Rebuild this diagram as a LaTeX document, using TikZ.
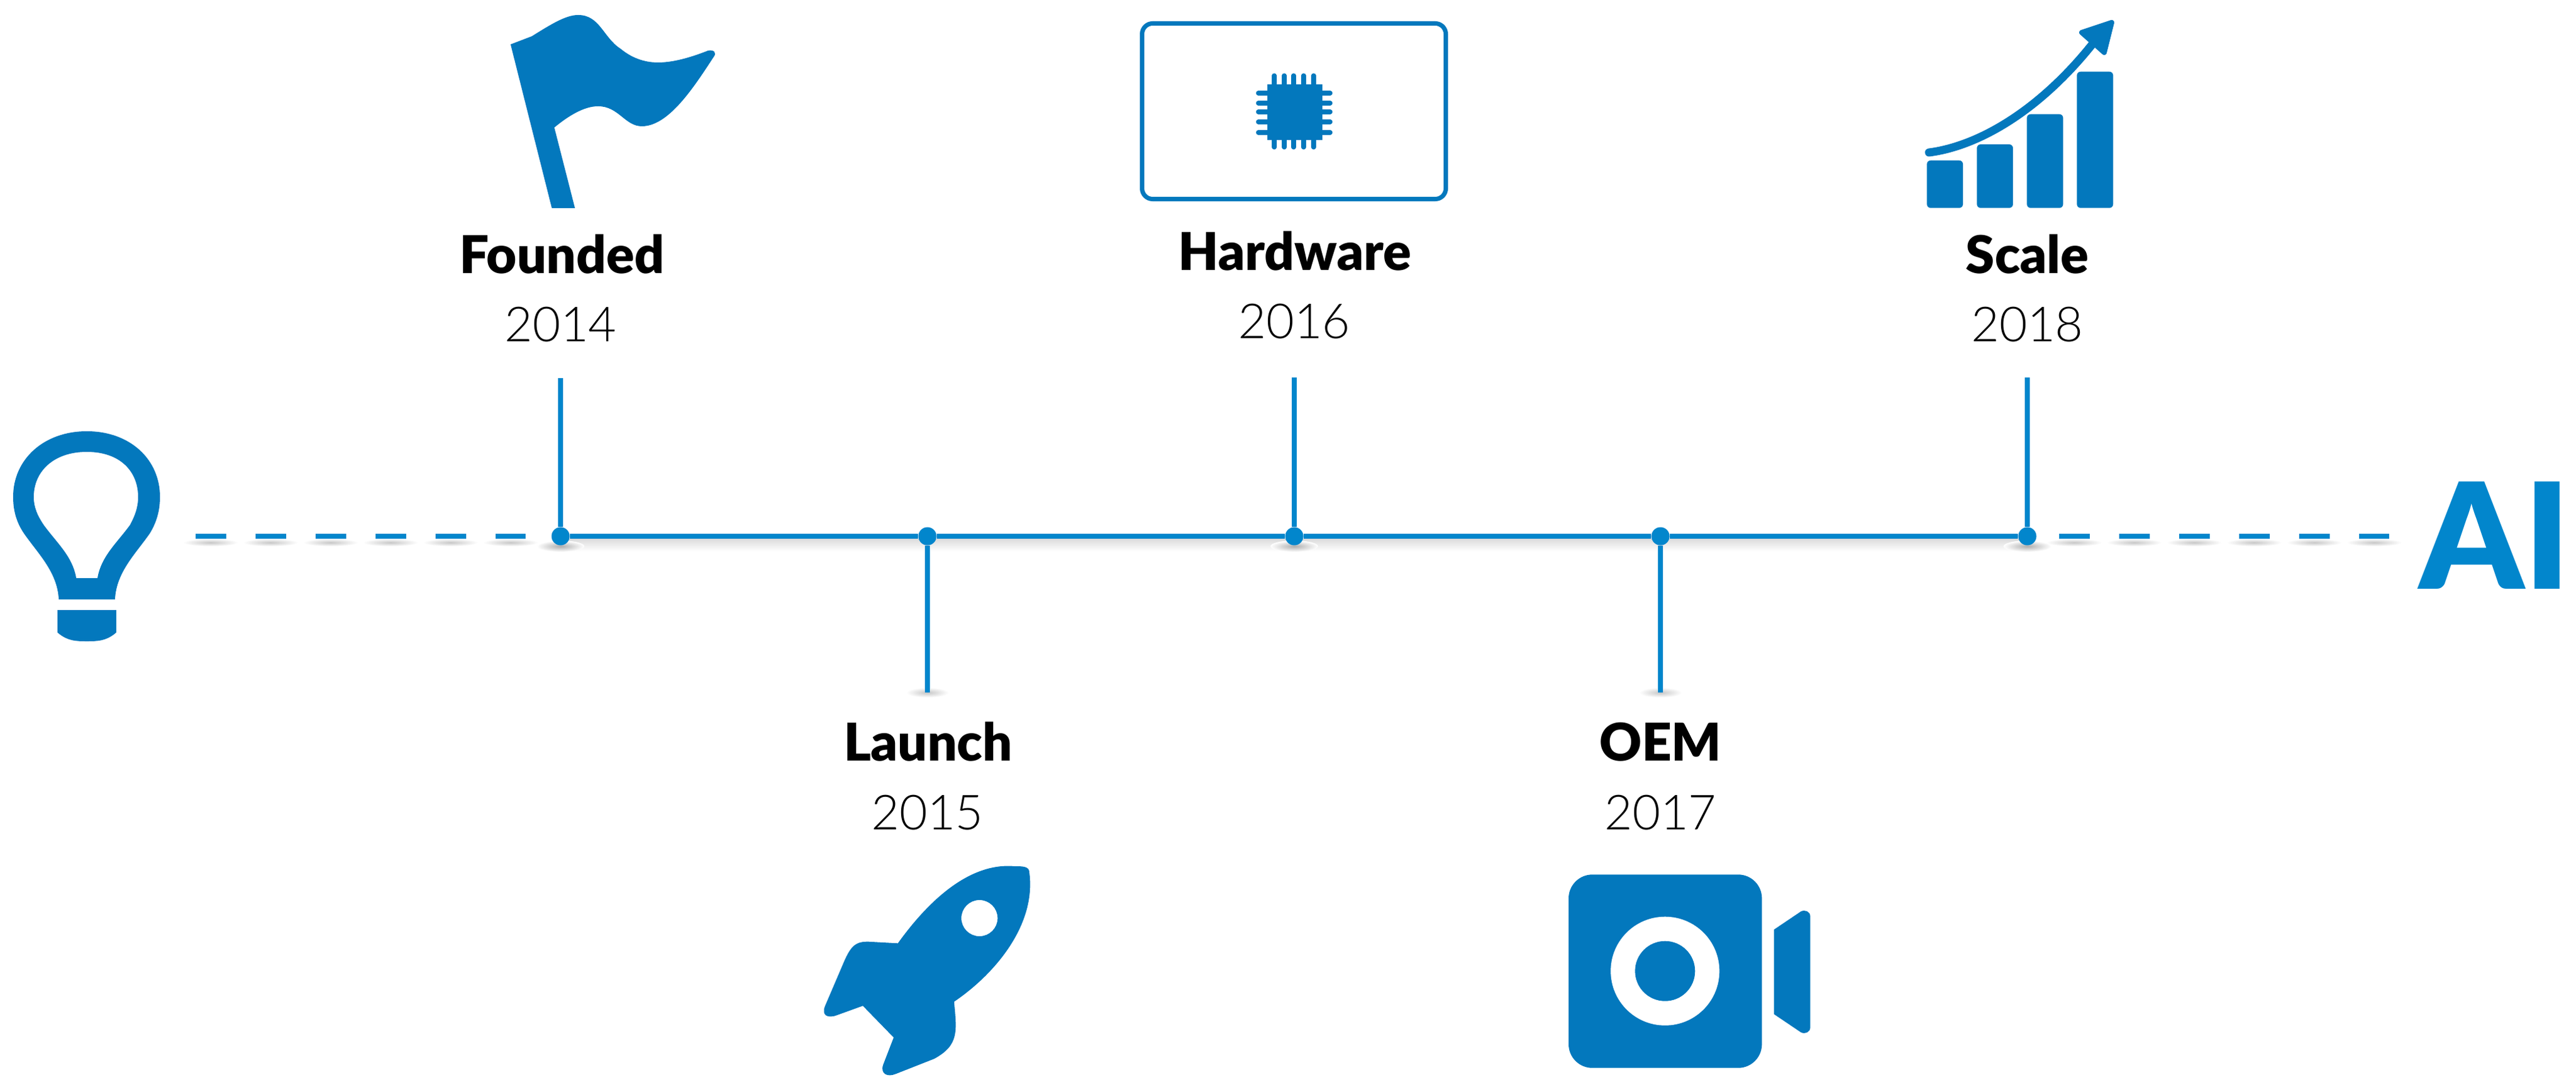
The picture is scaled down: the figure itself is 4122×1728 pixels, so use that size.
\documentclass[tikz,border=0pt]{standalone}
\usepackage{fontspec}
\setmainfont{Lato}
\newfontfamily\headf{Lato}[UprightFont=* Black,BoldFont=* Black]
\newfontfamily\yearf{Lato}[UprightFont=* Light]
\usetikzlibrary{shapes.geometric}
\definecolor{iconblue}{HTML}{0378BD}
\definecolor{lineblue}{HTML}{0286CC}
\tikzset{
  icon/.style={fill=iconblue,draw=none},
  axisline/.style={draw=lineblue,line width=2.4pt},
  dashline/.style={axisline,dash pattern=on 13.94pt off 13.37pt},
  stem/.style={draw=lineblue,line width=2.28pt},
  tdot/.style={circle,fill=lineblue,draw=none,minimum size=8.25pt,inner sep=0pt},
  headlabel/.style={font=\headf\fontsize{23.7pt}{25pt}\selectfont,text=black,inner sep=0pt,anchor=base},
  yearlabel/.style={font=\yearf\fontsize{22pt}{24pt}\selectfont,text=black,inner sep=0pt,anchor=base},
  pin/.style={draw=iconblue,line width=2.1pt,line cap=round},
  softshadow/.style={inner color=black!22,outer color=white,draw=none},
}
\begin{document}
\begin{tikzpicture}[x=0.01cm,y=-0.01cm]
\useasboundingbox (0,0) rectangle (4122,1728);
\fill[white] (0,0) rectangle (4122,1728);
% soft shadows
\shade[top color=black!14,bottom color=white,draw=none] (897,862) rectangle (3244,882);
\foreach \x in {337,433,529,625,721,817,3319,3415,3511,3607,3703,3799}
  \shade[softshadow] (\x,868) ellipse (44 and 6);
\foreach \x in {897,2071,3244}
  \shade[inner color=black!32,outer color=white,draw=none] (\x,874) ellipse (38 and 9);
\foreach \x in {1484,2657}
  \shade[softshadow] (\x,1108) ellipse (34 and 8);
% anchors of the timeline
\node[tdot] (d1) at (897,858) {};
\node[tdot] (d2) at (1484,858) {};
\node[tdot] (d3) at (2071,858) {};
\node[tdot] (d4) at (2657,858) {};
\node[tdot] (d5) at (3244,858) {};
\coordinate (ls) at (313,858);
\coordinate (le) at (841,858);
\coordinate (rs) at (3295,858);
\coordinate (re) at (3823,858);
\coordinate (t1) at (897,605);
\coordinate (t2) at (1484,1108);
\coordinate (t3) at (2071,604);
\coordinate (t4) at (2657,1108);
\coordinate (t5) at (3244,604);
\draw[dashline] (ls) -- (le);
\draw[dashline] (rs) -- (re);
\draw[axisline] (d1) -- (d2);
\draw[axisline] (d2) -- (d3);
\draw[axisline] (d3) -- (d4);
\draw[axisline] (d4) -- (d5);
\draw[stem] (t1) -- (d1);
\draw[stem] (t2) -- (d2);
\draw[stem] (t3) -- (d3);
\draw[stem] (t4) -- (d4);
\draw[stem] (t5) -- (d5);
% labels
\node[headlabel] (h1) at (899,438) {Founded};
\node[yearlabel] (y1) at (897,547) {2014};
\node[headlabel] (h2) at (1485,1217) {Launch};
\node[yearlabel] (y2) at (1484,1327) {2015};
\node[headlabel] (h3) at (2072,433) {Hardware};
\node[yearlabel] (y3) at (2071,542) {2016};
\node[headlabel] (h4) at (2657,1217) {OEM};
\node[yearlabel] (y4) at (2657,1327) {2017};
\node[headlabel] (h5) at (3244,438) {Scale};
\node[yearlabel] (y5) at (3244,547) {2018};
\node[font=\headf\fontsize{67pt}{70pt}\selectfont,text=lineblue,inner sep=0pt,anchor=base] (ai) at (3992,942) {AI};
% bulb
\fill[icon,even odd rule]
  (94,959) .. controls (92,915) and (60,885) .. (38,853)
  .. controls (28,838) and (21,820) .. (21,795)
  .. controls (21,735) and (70,690) .. (139,690)
  .. controls (208,690) and (256,735) .. (256,795)
  .. controls (256,820) and (249,838) .. (240,853)
  .. controls (218,885) and (186,915) .. (184,959) -- cycle
  (122,925) .. controls (116,890) and (92,870) .. (70,840)
  .. controls (60,825) and (54,812) .. (54,795)
  .. controls (54,755) and (85,723) .. (139,723)
  .. controls (193,723) and (221,755) .. (221,795)
  .. controls (221,812) and (216,825) .. (208,840)
  .. controls (186,870) and (162,890) .. (156,925) -- cycle;
\fill[icon] (92,976) -- (186,976) -- (186,1012) .. controls (170,1026) and (155,1026) .. (139,1026)
  .. controls (123,1026) and (108,1026) .. (92,1012) -- cycle;
% flag
\fill[icon] (817,71) -- (851,58) .. controls (880,40) and (905,24) .. (925,24)
  .. controls (960,24) and (965,60) .. (993,78)
  .. controls (1010,92) and (1030,100) .. (1053,100)
  .. controls (1080,100) and (1110,90) .. (1133,81)
  .. controls (1143,79) and (1147,85) .. (1142,91)
  .. controls (1110,140) and (1070,202) .. (1027,202)
  .. controls (1000,202) and (990,170) .. (957,170)
  .. controls (935,170) and (910,185) .. (887,204)
  -- (920,333) -- (883,333) -- cycle;
% chip
\draw[draw=iconblue,line width=2pt,rounded corners=4.8pt] (1827.5,37.5) rectangle (2313.5,318.5);
\fill[icon] (2027.5,135) rectangle (2116,224);
\foreach \x in {2039,2055,2070,2086,2102}{
  \draw[pin] (\x,121) -- (\x,135);
  \draw[pin] (\x,224) -- (\x,235.5);
}
\foreach \y in {149,165,179,195,212}{
  \draw[pin] (2013.5,\y) -- (2027.5,\y);
  \draw[pin] (2116,\y) -- (2128.5,\y);
}
% chart
\fill[icon,rounded corners=1.7pt] (3083.3,256.7) rectangle (3141,332.7);
\fill[icon,rounded corners=1.7pt] (3163.3,231) rectangle (3221,332.7);
\fill[icon,rounded corners=1.7pt] (3243.3,182.7) rectangle (3301.3,332.7);
\fill[icon,rounded corners=1.7pt] (3323.3,114.7) rectangle (3381.3,332.7);
\draw[draw=iconblue,line width=3.7pt,line cap=round] (3086.7,244) .. controls (3165,234) and (3262,178) .. (3347,72);
\filldraw[fill=iconblue,draw=iconblue,line width=2.3pt,line join=round] (3331,52) -- (3379,36) -- (3367,84) -- cycle;
% rocket
\fill[icon,even odd rule] (1436.7,1509.3) .. controls (1490,1435) and (1555,1380) .. (1623.3,1386)
  .. controls (1635,1386) and (1645,1386) .. (1646.7,1393.3)
  .. controls (1660,1480) and (1590,1560) .. (1526.7,1602.7)
  .. controls (1531,1650) and (1535,1672) .. (1495,1694)
  -- (1433.3,1718.3)
  .. controls (1420,1724) and (1408,1718) .. (1413.3,1703.3)
  -- (1430,1660) -- (1380.7,1609.3) -- (1340,1624)
  .. controls (1325,1630) and (1314,1625) .. (1320,1610)
  -- (1350,1540) .. controls (1362,1512) and (1370,1505) .. (1395,1507) -- cycle
  (1596.3,1469) arc[start angle=0,end angle=360,radius=29];
% camera
\fill[icon,rounded corners=10.8pt] (2510,1399.3) rectangle (2819.3,1708.7);
\fill[white] (2664.3,1553.7) circle[radius=87];
\fill[icon] (2664.3,1553.7) circle[radius=48];
\fill[icon] (2838.7,1487.3) -- (2881.7,1458.3) .. controls (2888,1455) and (2896.7,1458) .. (2896.7,1466.7)
  -- (2896.7,1643.3) .. controls (2896.7,1652) and (2888,1655) .. (2881.7,1651.7) -- (2838.7,1622.7) -- cycle;
\end{tikzpicture}
\end{document}
